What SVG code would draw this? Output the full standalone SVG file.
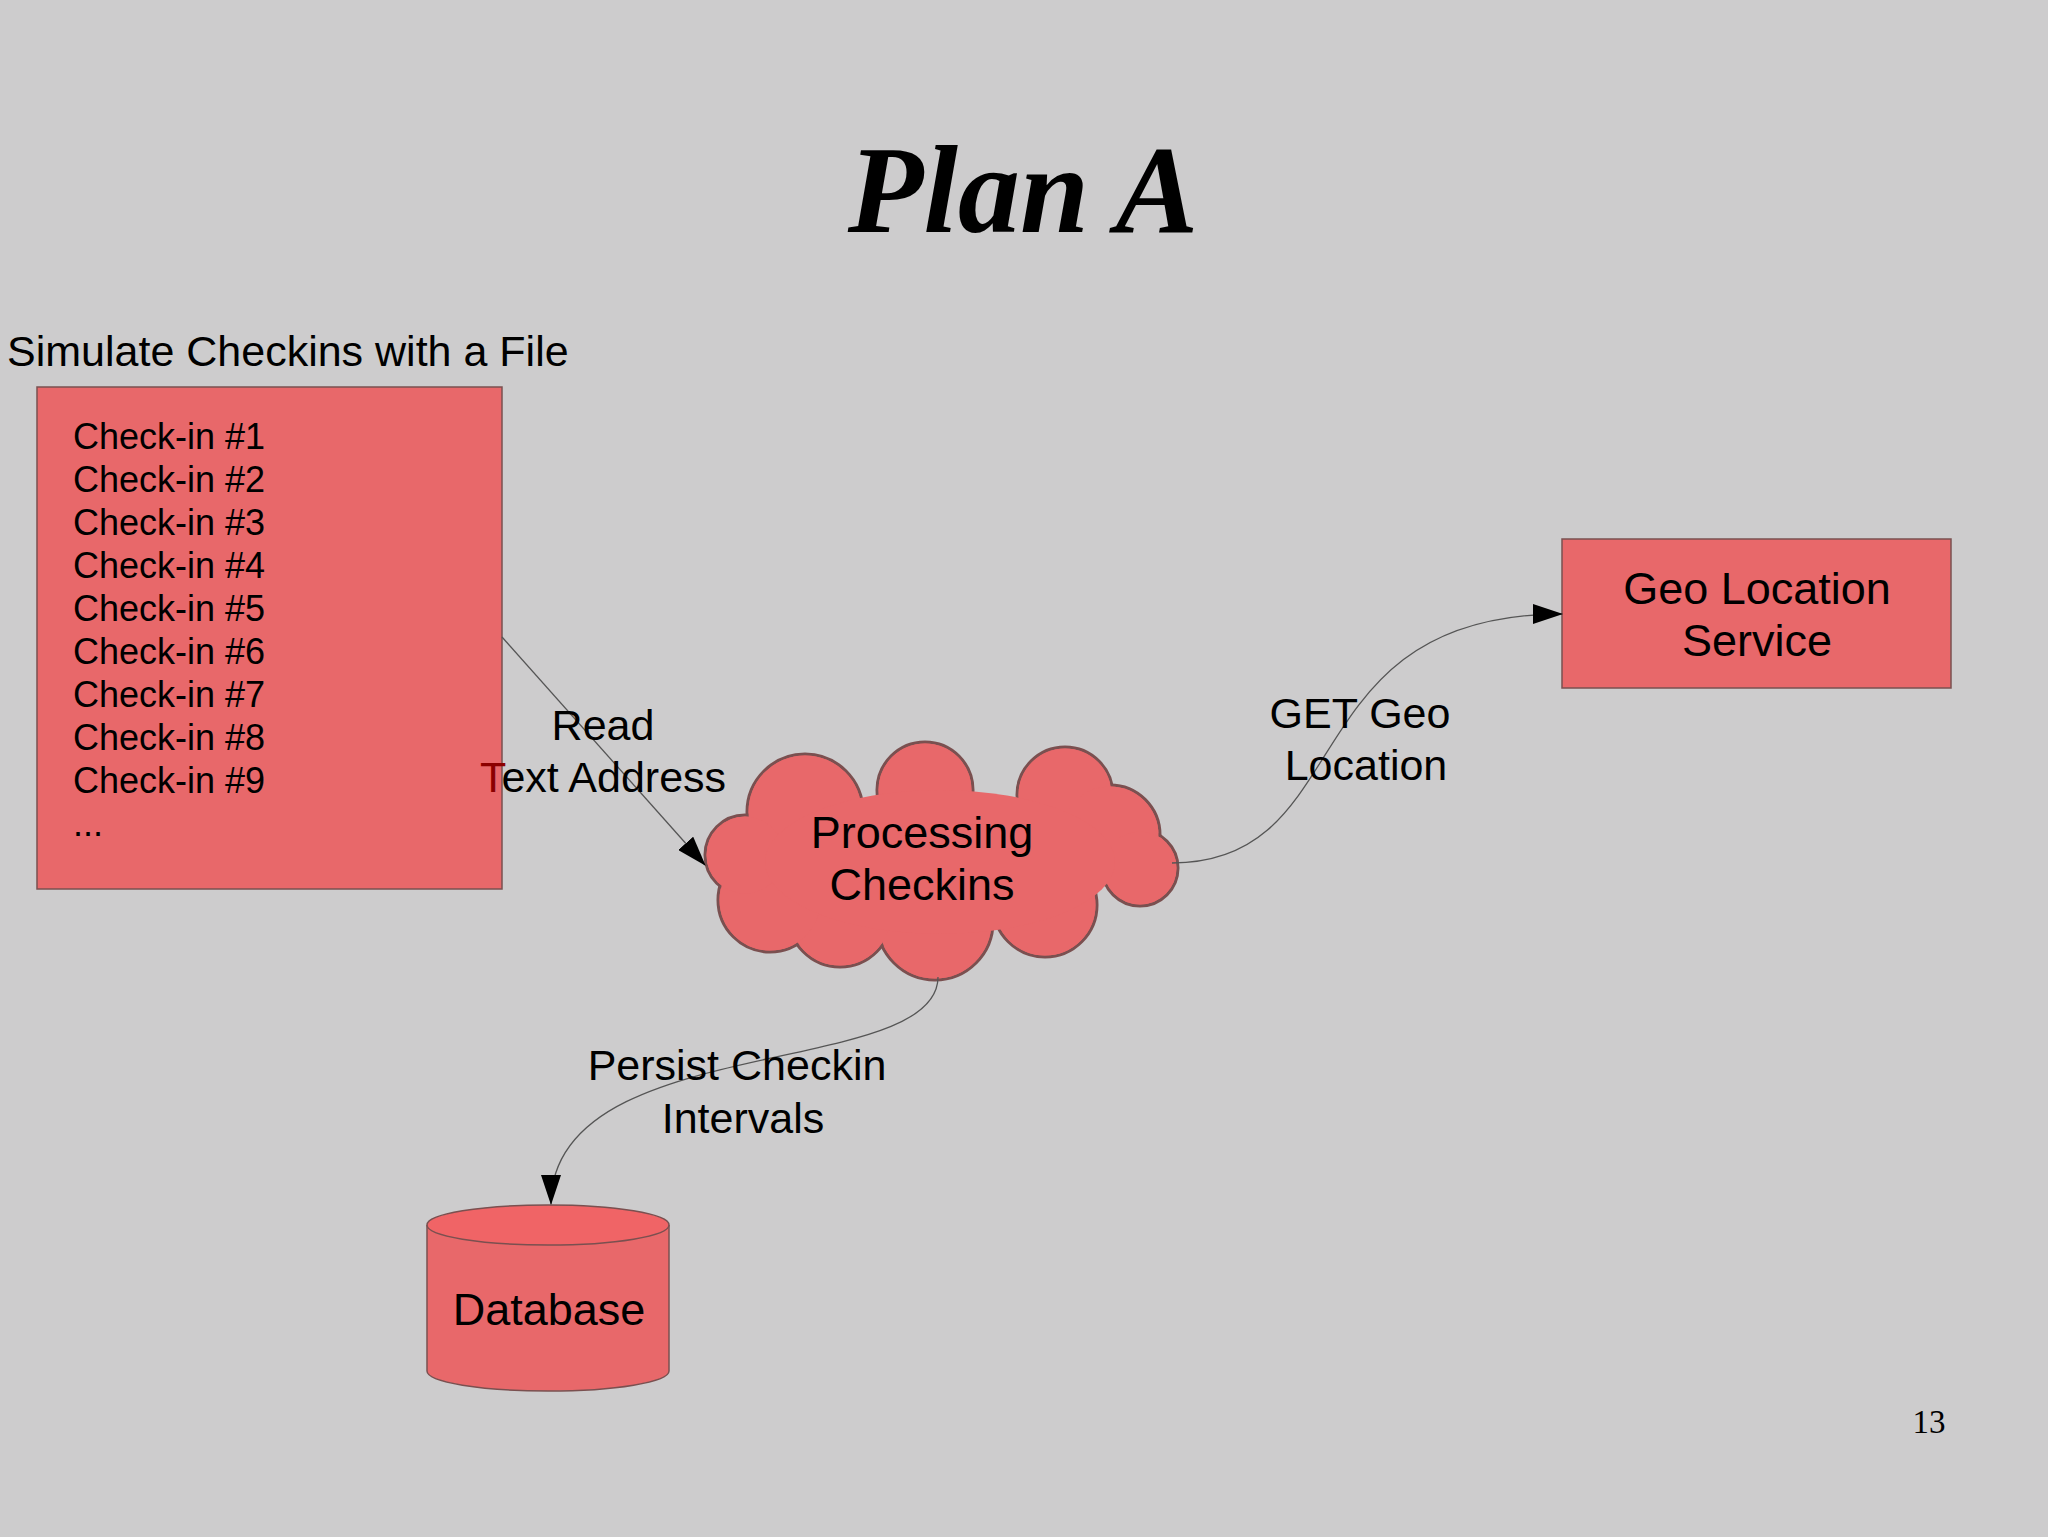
<svg xmlns="http://www.w3.org/2000/svg" width="2048" height="1537" viewBox="0 0 2048 1537">
<style>
.s{font-family:"Liberation Sans",Arial,sans-serif;fill:#000}
.box{fill:#e8686a;stroke:#7a5050;stroke-width:1.5}
.con{fill:none;stroke:#555;stroke-width:1.3}
.cl{fill:#e8686a}
.clo{fill:#e8686a;stroke:#7a5050;stroke-width:3}
</style>
<defs><marker id="ar" markerWidth="30" markerHeight="20" refX="29" refY="10" orient="auto" markerUnits="userSpaceOnUse"><path d="M0,0 L30,10 L0,20 z" fill="#000"/></marker></defs>
<rect width="2048" height="1537" fill="#cdcccd"/>
<text x="1023" y="232" text-anchor="middle" font-family="Liberation Serif,serif" font-weight="bold" font-style="italic" font-size="124">Plan A</text>
<text class="s" x="7" y="366" font-size="43">Simulate Checkins with a File</text>
<g id="file"><rect class="box" x="37" y="387" width="465" height="502"/>
<g class="s" font-size="36"><text x="73" y="449">Check-in #1</text><text x="73" y="492">Check-in #2</text><text x="73" y="535">Check-in #3</text><text x="73" y="578">Check-in #4</text><text x="73" y="621">Check-in #5</text><text x="73" y="664">Check-in #6</text><text x="73" y="707">Check-in #7</text><text x="73" y="750">Check-in #8</text><text x="73" y="793">Check-in #9</text><text x="73" y="836">...</text></g></g>
<g id="geo"><rect class="box" x="1562" y="539" width="389" height="149"/>
<g class="s" font-size="45" text-anchor="middle"><text x="1757" y="604">Geo Location</text><text x="1757" y="656">Service</text></g></g>
<g id="cloud">
<g class="clo"><circle cx="805" cy="812" r="58"/><circle cx="925" cy="790" r="48"/><circle cx="1065" cy="795" r="48"/><circle cx="1110" cy="835" r="50"/><circle cx="1140" cy="868" r="38"/><circle cx="1045" cy="905" r="52"/><circle cx="935" cy="922" r="58"/><circle cx="840" cy="915" r="52"/><circle cx="770" cy="900" r="52"/><circle cx="745" cy="855" r="40"/></g>
<g class="cl"><circle cx="805" cy="812" r="56.5"/><circle cx="925" cy="790" r="46.5"/><circle cx="1065" cy="795" r="46.5"/><circle cx="1110" cy="835" r="48.5"/><circle cx="1140" cy="868" r="36.5"/><circle cx="1045" cy="905" r="50.5"/><circle cx="935" cy="922" r="56.5"/><circle cx="840" cy="915" r="50.5"/><circle cx="770" cy="900" r="50.5"/><circle cx="745" cy="855" r="38.5"/><ellipse cx="940" cy="862" rx="175" ry="72"/></g>
<g class="s" font-size="45" text-anchor="middle"><text x="922" y="848">Processing</text><text x="922" y="900">Checkins</text></g></g>
<g id="db"><path class="box" d="M427,1225 L427,1371 A121,20 0 0 0 669,1371 L669,1225"/><ellipse cx="548" cy="1225" rx="121" ry="20" fill="#f06466" stroke="#7a5050" stroke-width="1.5"/>
<text class="s" x="549" y="1325" font-size="45" text-anchor="middle">Database</text></g>
<g id="connectors">
<path class="con" d="M502,637 L705,865" marker-end="url(#ar)"/>
<path class="con" d="M1172,863 C1360,863 1290,614 1562,614" marker-end="url(#ar)"/>
<path class="con" d="M938,977 C938,1080 551,1030 551,1204" marker-end="url(#ar)"/>
</g>
<g class="s" font-size="43" text-anchor="middle">
<text x="603" y="740">Read</text><text x="603" y="792"><tspan fill="#8b0000">T</tspan>ext Address</text>
<text x="1360" y="728">GET Geo</text><text x="1366" y="780">Location</text>
<text x="737" y="1080">Persist Checkin</text><text x="743" y="1133">Intervals</text></g>
<text x="1929" y="1433" font-family="Liberation Serif,serif" font-size="33" text-anchor="middle">13</text>
</svg>
